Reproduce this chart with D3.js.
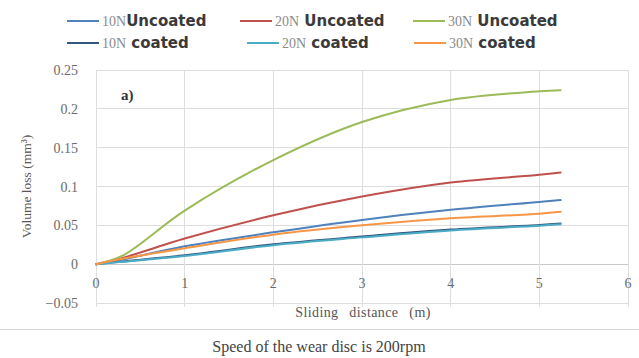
<!DOCTYPE html>
<html><head><meta charset="utf-8">
<script src="https://cdn.jsdelivr.net/npm/d3@7"></script>
<style>body{margin:0;background:#fff}svg{display:block}</style>
</head><body>
<script>
// ---- data ----
const distance = [0, 0.3, 1, 2, 3, 4, 5, 5.24];
const uncoated10N = [0, 0.006, 0.023, 0.041, 0.057, 0.070, 0.080, 0.0825];
const uncoated20N = [0, 0.008, 0.033, 0.063, 0.087, 0.105, 0.115, 0.118];
const uncoated30N = [0, 0.011, 0.069, 0.134, 0.183, 0.2115, 0.2225, 0.224];
const coated10N = [0, 0.0035, 0.0115, 0.0255, 0.0355, 0.0445, 0.0505, 0.0525];
const coated20N = [0, 0.003, 0.0105, 0.0245, 0.0345, 0.0435, 0.0495, 0.0515];
const coated30N = [0, 0.007, 0.0205, 0.038, 0.050, 0.059, 0.065, 0.0675];
const legendLoads = ["10N", "20N", "30N", "10N", "20N", "30N"];
const legendStates = ["Uncoated", "Uncoated", "Uncoated", "coated", "coated", "coated"];
const legendGaps = ["", " ", " ", " ", " ", " "];
const xTicks = [0, 1, 2, 3, 4, 5, 6];
const yTicks = [-0.05, 0, 0.05, 0.1, 0.15, 0.2, 0.25];
const colors = ["#4f81bd", "#c0504d", "#9bbb59", "#34567f", "#4bacc6", "#f79646"];

const seriesValues = [uncoated10N, uncoated20N, uncoated30N, coated10N, coated20N, coated30N];

const W = 639, H = 358;
const svg = d3.select("body").append("svg").attr("width", W).attr("height", H);

const x = d3.scaleLinear().domain([0, 6]).range([96, 628]);
const y = d3.scaleLinear().domain([-0.05, 0.25]).range([303, 70]);

const serif = "'Liberation Serif', 'Times New Roman', serif";
const sans = "'DejaVu Sans', Verdana, sans-serif";

// gridlines
svg.append("g").selectAll("line").data(yTicks).join("line")
  .attr("x1", x(0)).attr("x2", x(6))
  .attr("y1", d => y(d)).attr("y2", d => y(d))
  .attr("stroke", d => d === 0 ? "#c8c8c8" : "#dedede").attr("stroke-width", 1)
  .attr("shape-rendering", "crispEdges");
svg.append("g").selectAll("line").data(xTicks).join("line")
  .attr("x1", d => x(d)).attr("x2", d => x(d))
  .attr("y1", y(0.25)).attr("y2", y(-0.05) + 4)
  .attr("stroke", "#dedede").attr("stroke-width", 1)
  .attr("shape-rendering", "crispEdges");

// y tick labels
svg.append("g").selectAll("text").data(yTicks).join("text")
  .attr("x", 78).attr("y", d => y(d) + 5)
  .attr("text-anchor", "end")
  .attr("font-family", serif).attr("font-size", 14).attr("fill", "#6a6a6a")
  .text(d => d3.format("")(+d.toFixed(2)));

// x tick labels (next to zero axis)
svg.append("g").selectAll("text").data(xTicks).join("text")
  .attr("x", d => x(d)).attr("y", y(0) + 24)
  .attr("text-anchor", "middle")
  .attr("font-family", serif).attr("font-size", 14).attr("fill", "#6a6a6a")
  .text(d => d);

// axis titles
svg.append("text")
  .attr("transform", `translate(31,${(y(0.25) + y(-0.05)) / 2}) rotate(-90)`)
  .attr("text-anchor", "middle")
  .attr("font-family", serif).attr("font-size", 13.5).attr("fill", "#555")
  .text("Volume loss (mm³)");
svg.append("text")
  .attr("x", 363).attr("y", 317).attr("text-anchor", "middle")
  .attr("font-family", serif).attr("font-size", 14).attr("fill", "#555")
  .attr("word-spacing", 7).attr("letter-spacing", 0.4)
  .text("Sliding distance (m)");

// panel label
svg.append("text").attr("x", 121).attr("y", 100)
  .attr("font-family", serif).attr("font-size", 15).attr("font-weight", "bold").attr("fill", "#333")
  .text("a)");

// lines
const line = d3.line().x((d, i) => x(distance[i])).y(d => y(d)).curve(d3.curveCatmullRom.alpha(0.5));
svg.append("g").selectAll("path").data(seriesValues).join("path")
  .attr("d", d => line(d))
  .attr("fill", "none")
  .attr("stroke", (d, i) => colors[i])
  .attr("stroke-width", 2)
  .attr("stroke-linecap", "round");

// legend
const legendX = [67, 240, 413, 67, 247, 414];
const legendY = [21, 21, 21, 43, 43, 43];
const lg = svg.append("g").selectAll("g").data(legendLoads).join("g")
  .attr("transform", (d, i) => `translate(${legendX[i]},${legendY[i]})`);
lg.append("line").attr("x1", 0).attr("x2", 32).attr("y1", 0).attr("y2", 0)
  .attr("stroke", (d, i) => colors[i]).attr("stroke-width", 2);
const lt = lg.append("text").attr("x", 35).attr("y", 5);
lt.append("tspan").attr("font-family", serif).attr("font-size", 14).attr("fill", "#8a8a8a")
  .text((d, i) => legendLoads[i]);
lt.append("tspan").attr("font-family", sans).attr("font-size", 15).attr("font-weight", "bold").attr("fill", "#3a3a3a")
  .style("white-space", "pre")
  .text((d, i) => legendGaps[i] + legendStates[i]);

// separator and caption
svg.append("line").attr("x1", 0).attr("x2", W).attr("y1", 329.5).attr("y2", 329.5)
  .attr("stroke", "#d4d4d4").attr("stroke-width", 1);
svg.append("text").attr("x", 319).attr("y", 352).attr("text-anchor", "middle")
  .attr("font-family", serif).attr("font-size", 16).attr("fill", "#444")
  .text("Speed of the wear disc is 200rpm");
</script>
</body></html>
